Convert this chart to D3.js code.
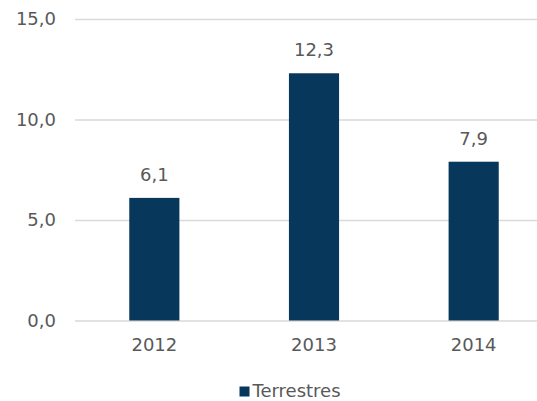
<!DOCTYPE html>
<html><head><meta charset="utf-8">
<script src="https://cdn.jsdelivr.net/npm/d3@7"></script>
<style>body{margin:0;background:#fff}svg{display:block}</style>
</head><body>
<svg id="c" width="537" height="401"></svg>
<script>
const categories = ["2012", "2013", "2014"];
const values = [6.1, 12.3, 7.9];
const seriesName = "Terrestres";
const yTicks = [0, 5, 10, 15];

const svg = d3.select("#c");
const font = "'DejaVu Sans', Verdana, sans-serif";
const textColor = "#595959";
const barColor = "#07375a";
const fs = "18px";

const y = d3.scaleLinear().domain([0, 15]).range([320.5, 19]);
const x = d3.scaleBand().domain(categories).range([74.5, 553.5]).paddingInner(0.686).paddingOuter(0.343);
const gridX0 = 75, gridX1 = 537;

const fmt = v => d3.format(".1f")(v).replace(".", ",");

// grid
const yAxis = d3.axisLeft(y).tickValues(yTicks).tickSize(-(gridX1 - gridX0)).tickPadding(19).tickFormat(fmt);
const gy = svg.append("g").attr("transform", `translate(${gridX0},0)`).call(yAxis);
gy.select(".domain").remove();
gy.selectAll(".tick line").attr("stroke", "#d9d9d9").attr("stroke-width", 1.3);
gy.selectAll(".tick text").attr("fill", textColor).style("font-family", font).style("font-size", fs);

// bars
svg.append("g").selectAll("rect").data(values).join("rect")
  .attr("x", (d, i) => x(categories[i]))
  .attr("width", x.bandwidth())
  .attr("y", d => y(d))
  .attr("height", d => y(0) - y(d))
  .attr("fill", barColor);

// value labels
svg.append("g").selectAll("text").data(values).join("text")
  .attr("x", (d, i) => x(categories[i]) + x.bandwidth() / 2)
  .attr("y", d => y(d) - 17)
  .attr("text-anchor", "middle")
  .attr("fill", textColor)
  .style("font-family", font).style("font-size", fs)
  .text(d => fmt(d));

// x axis labels
const xAxis = d3.axisBottom(x).tickSize(0).tickPadding(18);
const gx = svg.append("g").attr("transform", `translate(0,${y(0)})`).call(xAxis);
gx.select(".domain").remove();
gx.selectAll(".tick text").attr("fill", textColor).style("font-family", font).style("font-size", fs);

// legend
const lg = svg.append("g").attr("transform", "translate(239.5,386.5)");
lg.append("rect").attr("width", 10).attr("height", 10).attr("fill", barColor);
lg.append("text").attr("x", 13).attr("y", 10.5).attr("fill", textColor)
  .style("font-family", font).style("font-size", fs).text(seriesName);
</script>
</body></html>
